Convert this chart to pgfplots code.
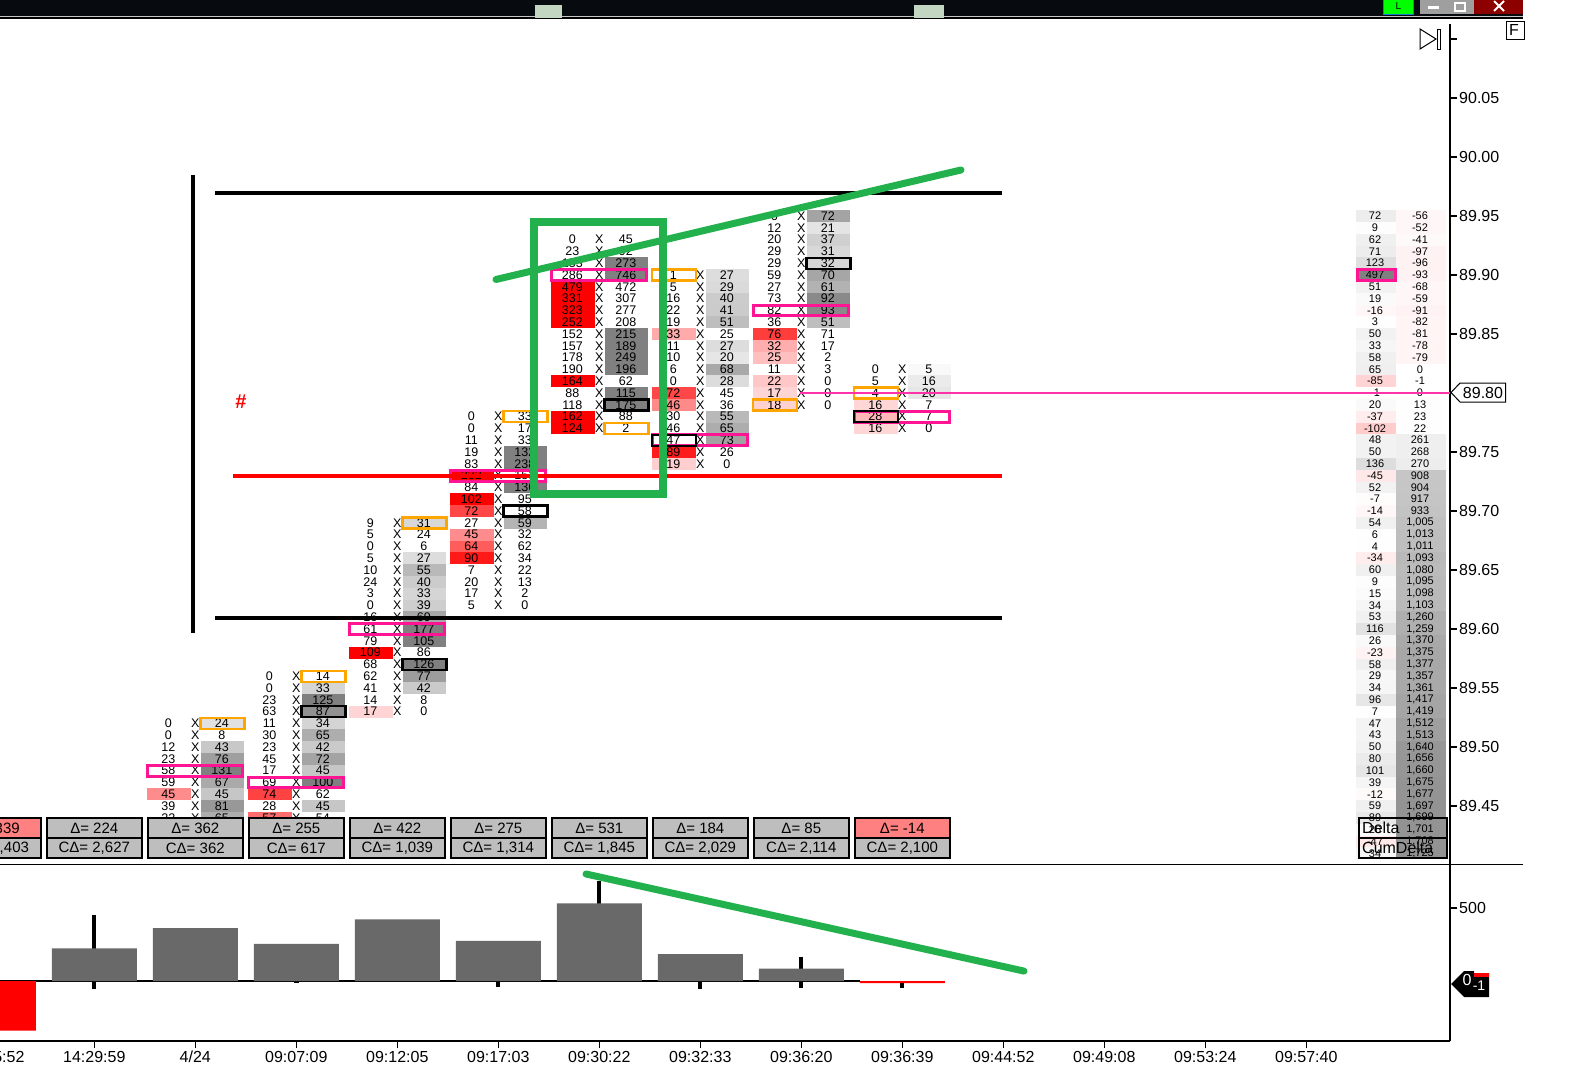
\documentclass[border=0pt]{standalone}
\usepackage{fontspec}
\setmainfont{Liberation Sans}
\usepackage{pgfplots}
\usepackage{pgfplotstable}
\pgfplotsset{compat=1.18}
\usetikzlibrary{plotmarks}

\definecolor{midgray}{HTML}{808080}
\definecolor{tagbox}{HTML}{BEBEBE}
\definecolor{tagred}{HTML}{FF8080}
\definecolor{volgray}{HTML}{696969}
\definecolor{boxpink}{HTML}{FF1493}
\definecolor{boxorange}{HTML}{FFA500}
\definecolor{penline}{HTML}{22B14C}
\definecolor{framedark}{HTML}{070B0F}

% cell and outline marks, sizes are screen pixels (1pt = 1px here)
\pgfdeclareplotmark{cell}{\pgfpathrectangle{\pgfpoint{-21.75pt}{-5.9pt}}{\pgfpoint{43.5pt}{11.8pt}}\pgfusepath{fill}}
\pgfdeclareplotmark{cella}{\pgfpathrectangle{\pgfpoint{-20pt}{-5.9pt}}{\pgfpoint{40pt}{11.8pt}}\pgfusepath{fill}}
\pgfdeclareplotmark{cellb}{\pgfpathrectangle{\pgfpoint{-25pt}{-5.9pt}}{\pgfpoint{50pt}{11.8pt}}\pgfusepath{fill}}
\pgfdeclareplotmark{sidebox}{\pgfpathrectangle{\pgfpoint{-22pt}{-5.5pt}}{\pgfpoint{44pt}{11pt}}\pgfusepath{stroke}}
\pgfdeclareplotmark{widebox}{\pgfpathrectangle{\pgfpoint{-47.5pt}{-5.4pt}}{\pgfpoint{95pt}{10.8pt}}\pgfusepath{stroke}}
\pgfdeclareplotmark{rightbox}{\pgfpathrectangle{\pgfpoint{-19pt}{-5.4pt}}{\pgfpoint{38pt}{10.8pt}}\pgfusepath{stroke}}
\pgfdeclareplotmark{tagcell}{\pgfpathrectangle{\pgfpoint{-47.5pt}{-10pt}}{\pgfpoint{95pt}{20pt}}\pgfusepath{fill,stroke}}

\tikzset{cellfont/.style={font=\fontsize{12.5}{12.5}\selectfont},
  smallfont/.style={font=\fontsize{11}{11}\selectfont}}

\pgfplotsset{
  shade/.style={only marks, mark=#1, scatter, forget plot, point meta=explicit},
  labels/.style={draw=none, forget plot, point meta=explicit symbolic, nodes near coords,
    every node near coord/.style={anchor=center,inner sep=0pt,text=black,#1}},
  xcol/.style={draw=none, forget plot, nodes near coords={X},
    every node near coord/.style={anchor=center,inner sep=0pt,text=black,cellfont}},
  tags/.style n args={2}{
    only marks, mark=tagcell, forget plot,
    mark options={fill=#1,draw=black,line width=1.8pt},
    point meta=explicit symbolic,
    nodes near coords={#2\pgfplotspointmeta},
    every node near coord/.style={anchor=center,inner sep=0pt,text=black,font=\fontsize{15}{15}\selectfont},
  },
  boxes/.style n args={3}{only marks, mark=#1, forget plot, mark options={draw=#2,line width=#3,fill=none}},
}

\newcommand{\footbar}[2]{%
  \addplot[shade=cell] table[x expr=#1-26.5,y=p,meta=sb]{#2};
  \addplot[shade=cell] table[x expr=#1+27,y=p,meta=sa]{#2};
  \addplot[labels=cellfont] table[x expr=#1-27,y=p,meta=bid]{#2};
  \addplot[labels=cellfont] table[x expr=#1+26.5,y=p,meta=ask]{#2};
  \addplot[xcol] table[x expr=#1,y=p]{#2};
}

% price bid ask, then fill shade in percent (negative = red, positive = gray)
\pgfplotstableread{
p bid ask sb sa
89.52 0 24 0 24
89.51 0 8 0 0
89.50 12 43 0 43
89.49 23 76 0 76
89.48 58 131 0 100
89.47 59 67 0 67
89.46 45 45 -45 45
89.45 39 81 0 81
89.44 22 65 0 65
}\tA
\pgfplotstableread{
p bid ask sb sa
89.56 0 14 0 0
89.55 0 33 0 33
89.54 23 125 0 100
89.53 63 87 0 87
89.52 11 34 0 34
89.51 30 65 0 65
89.50 23 42 0 42
89.49 45 72 0 72
89.48 17 45 0 45
89.47 69 100 0 100
89.46 74 62 -74 0
89.45 28 45 0 45
89.44 57 54 -57 0
}\tB
\pgfplotstableread{
p bid ask sb sa
89.69 9 31 0 31
89.68 5 24 0 0
89.67 0 6 0 0
89.66 5 27 0 27
89.65 10 55 0 55
89.64 24 40 0 40
89.63 3 33 0 33
89.62 0 39 0 39
89.61 16 69 0 69
89.60 61 177 0 100
89.59 79 105 0 100
89.58 109 86 -100 0
89.57 68 126 0 100
89.56 62 77 0 77
89.55 41 42 0 42
89.54 14 8 0 0
89.53 17 0 -17 0
}\tC
\pgfplotstableread{
p bid ask sb sa
89.78 0 33 0 0
89.77 0 17 0 0
89.76 11 33 0 0
89.75 19 132 0 100
89.74 83 238 0 100
89.73 232 153 -100 0
89.72 84 136 0 100
89.71 102 95 -100 0
89.70 72 58 -72 0
89.69 27 59 0 59
89.68 45 32 -45 0
89.67 64 62 -64 0
89.66 90 34 -90 0
89.65 7 22 0 0
89.64 20 13 0 0
89.63 17 2 0 0
89.62 5 0 0 0
}\tD
\pgfplotstableread{
p bid ask sb sa
89.93 0 45 0 0
89.92 23 92 0 0
89.91 153 273 0 100
89.90 286 746 0 100
89.89 479 472 -100 0
89.88 331 307 -100 0
89.87 323 277 -100 0
89.86 252 208 -100 0
89.85 152 215 0 100
89.84 157 189 0 100
89.83 178 249 0 100
89.82 190 196 0 100
89.81 164 62 -100 0
89.80 88 115 0 100
89.79 118 175 0 100
89.78 162 88 -100 0
89.77 124 2 -100 0
}\tE
\pgfplotstableread{
p bid ask sb sa
89.90 1 27 0 27
89.89 5 29 0 29
89.88 16 40 0 40
89.87 22 41 0 41
89.86 19 51 0 51
89.85 33 25 -33 0
89.84 11 27 0 27
89.83 10 20 0 20
89.82 6 68 0 68
89.81 0 28 0 28
89.80 72 45 -72 0
89.79 46 36 -46 0
89.78 30 55 0 55
89.77 46 65 0 65
89.76 47 73 0 73
89.75 89 26 -89 0
89.74 19 0 -19 0
}\tF
\pgfplotstableread{
p bid ask sb sa
89.95 6 72 0 72
89.94 12 21 0 21
89.93 20 37 0 37
89.92 29 31 0 31
89.91 29 32 0 32
89.90 59 70 0 70
89.89 27 61 0 61
89.88 73 92 0 92
89.87 82 93 0 93
89.86 36 51 0 51
89.85 76 71 -76 0
89.84 32 17 -32 0
89.83 25 2 -25 0
89.82 11 3 0 0
89.81 22 0 -22 0
89.80 17 0 -17 0
89.79 18 0 -18 0
}\tG
\pgfplotstableread{
p bid ask sb sa
89.82 0 5 0 5
89.81 5 16 0 16
89.80 4 20 0 20
89.79 16 7 -16 0
89.78 28 7 -28 0
89.77 16 0 -16 0
}\tH

% right hand profile: delta and cumulative delta per price
\pgfplotstableread{
p d c sd sc
89.95 72 -56 14 -3
89.94 9 -52 2 -3
89.93 62 -41 12 -2
89.92 71 -97 14 -5
89.91 123 -96 25 -5
89.90 497 -93 100 -5
89.89 51 -68 10 -3
89.88 19 -59 4 -3
89.87 -16 -91 -3 -5
89.86 3 -82 1 -4
89.85 50 -81 10 -4
89.84 33 -78 7 -4
89.83 58 -79 12 -4
89.82 65 0 13 0
89.81 -85 -1 -17 0
89.80 -1 0 0 0
89.79 20 13 4 1
89.78 -37 23 -7 1
89.77 -102 22 -20 1
89.76 48 261 10 13
89.75 50 268 10 13
89.74 136 270 27 14
89.73 -45 908 -9 45
89.72 52 904 10 45
89.71 -7 917 -1 46
89.70 -14 933 -3 47
89.69 54 1,005 11 50
89.68 6 1,013 1 51
89.67 4 1,011 1 51
89.66 -34 1,093 -7 55
89.65 60 1,080 12 54
89.64 9 1,095 2 55
89.63 15 1,098 3 55
89.62 34 1,103 7 55
89.61 53 1,260 11 63
89.60 116 1,259 23 63
89.59 26 1,370 5 68
89.58 -23 1,375 -5 69
89.57 58 1,377 12 69
89.56 29 1,357 6 68
89.55 34 1,361 7 68
89.54 96 1,417 19 71
89.53 7 1,419 1 71
89.52 47 1,512 9 76
89.51 43 1,513 9 76
89.50 50 1,640 10 82
89.49 80 1,656 16 83
89.48 101 1,660 20 83
89.47 39 1,675 8 84
89.46 -12 1,677 -2 84
89.45 59 1,697 12 85
89.44 89 1,699 18 85
89.43 26 1,701 5 85
89.42 -47 1,708 -9 85
89.41 34 1,725 7 86
}\tR

% bar summary tags
\pgfplotstableread{
x v
94.3 224
195.3 362
296.3 255
397.3 422
498.3 275
599.3 531
700.3 184
801.3 85
}\tDeltaPos
\pgfplotstableread{
x v
-6.7 -339
902.3 -14
}\tDeltaNeg
\pgfplotstableread{
x v
-6.7 2,403
94.3 2,627
195.3 362
296.3 617
397.3 1,039
498.3 1,314
599.3 1,845
700.3 2,029
801.3 2,114
902.3 2,100
}\tCum

\begin{document}
\begin{tikzpicture}
\useasboundingbox (0,0) rectangle (1583pt,-1077pt);

% price panel
\begin{axis}[
  at={(-100pt,-864pt)}, anchor=south west,
  scale only axis, width=1550pt, height=840pt,
  xmin=-100, xmax=1450, ymin=89.40085, ymax=90.11271,
  axis x line=none, axis y line=right,
  axis line style={-,line width=1.3pt,black},
  ytick={89.45,89.50,89.55,89.60,89.65,89.70,89.75,89.80,89.85,89.90,89.95,90.00,90.05,90.10},
  yticklabels={89.45,89.50,89.55,89.60,89.65,89.70,89.75,,89.85,89.90,89.95,90.00,90.05,},
  tick align=outside, major tick length=7pt,
  tick style={black,line width=1.2pt},
  yticklabel style={font=\fontsize{16}{16}\selectfont,inner sep=0pt,xshift=2pt},
  clip=true, clip mode=individual,
  colormap={cellmap}{color=(red) color=(white) color=(midgray)},
  point meta min=-100, point meta max=100,
]
\footbar{195.3}{\tA}
\footbar{296.3}{\tB}
\footbar{397.3}{\tC}
\footbar{498.3}{\tD}
\footbar{599.3}{\tE}
\footbar{700.3}{\tF}
\footbar{801.3}{\tG}
\footbar{902.3}{\tH}

% right profile
\addplot[shade=cella] table[x expr=1376,y=p,meta=sd]{\tR};
\addplot[shade=cellb] table[x expr=1421,y=p,meta=sc]{\tR};
\addplot[labels=smallfont] table[x expr=1375,y=p,meta=d]{\tR};
\addplot[labels=smallfont] table[x expr=1420,y=p,meta=c]{\tR};

% marked cells
\addplot[boxes={widebox}{boxpink}{3pt}] coordinates {(195.3,89.48)(296.3,89.47)(397.3,89.60)(498.3,89.73)(599.3,89.90)(700.3,89.76)(801.3,89.87)(902.3,89.78)};
\addplot[boxes={rightbox}{boxpink}{3pt}] coordinates {(1376,89.90)};
\addplot[boxes={sidebox}{boxorange}{2.4pt}] coordinates {(222.3,89.52)(323.3,89.56)(424.3,89.69)(525.3,89.78)(626.3,89.77)(673.8,89.90)(774.8,89.79)(875.8,89.80)};
\addplot[boxes={sidebox}{black}{2.4pt}] coordinates {(323.3,89.53)(424.3,89.57)(525.3,89.70)(626.3,89.79)(828.3,89.91)(673.8,89.76)(875.8,89.78)};

% level lines
\addplot[black,line width=4pt,forget plot] coordinates {(215,89.9695)(1002,89.9695)};
\addplot[black,line width=4pt,forget plot] coordinates {(215,89.6093)(1002,89.6093)};
\addplot[black,line width=4pt,forget plot] coordinates {(193,89.9847)(193,89.5966)};
\addplot[red,line width=3.6pt,forget plot] coordinates {(233,89.7297)(1002,89.7297)};
\addplot[color={rgb,255:red,255;green,50;blue,170},line width=2pt,forget plot] coordinates {(800,89.80)(1450,89.80)};

% summary tags under the bars
\addplot[tags={tagbox}{Δ= }] table[x=x,y expr=89.4314,meta=v]{\tDeltaPos};
\addplot[tags={tagred}{Δ= }] table[x=x,y expr=89.4314,meta=v]{\tDeltaNeg};
\addplot[tags={tagbox}{CΔ= }] table[x=x,y expr=89.4144,meta=v]{\tCum};

\node[text=red,font=\fontsize{20}{20}\selectfont\bfseries] at (axis cs:241,89.793) {\#};
\draw[black,line width=2pt] (axis cs:1359,89.4398) rectangle (axis cs:1447,89.4229);
\draw[black,line width=2pt] (axis cs:1359,89.4229) rectangle (axis cs:1447,89.4059);
\node[anchor=west,inner sep=0pt,font=\fontsize{16}{16}\selectfont] at (axis cs:1362,89.4314) {Delta};
\node[anchor=west,inner sep=0pt,font=\fontsize{16}{16}\selectfont] at (axis cs:1362,89.4144) {CumDelta};

% pen marks
\addplot[penline,line width=7.7pt,sharp plot,line join=miter,forget plot] coordinates {(534,89.9449)(663,89.9449)(663,89.7144)(534,89.7144)} --cycle;
\addplot[penline,line width=7pt,line cap=round,forget plot] coordinates {(496,89.8962)(961,89.989)};
\end{axis}

% volume delta panel
\begin{axis}[
  at={(-100pt,-1041pt)}, anchor=south west,
  scale only axis, width=1550pt, height=177pt,
  xmin=-100, xmax=1450, ymin=-410.96, ymax=801.4,
  axis x line=bottom, axis y line=right,
  axis line style={-,line width=1.3pt,black},
  ytick={500}, yticklabels={500},
  xtick={-6.7,94.3,195.3,296.3,397.3,498.3,599.3,700.3,801.3,902.3,1003.3,1104.3,1205.3,1306.3},
  xticklabels={14:25:52,14:29:59,4/24,09:07:09,09:12:05,09:17:03,09:30:22,09:32:33,09:36:20,09:36:39,09:44:52,09:49:08,09:53:24,09:57:40},
  tick align=outside, major tick length=7pt,
  tick style={black,line width=1.2pt},
  xticklabel style={font=\fontsize{16}{16}\selectfont,inner sep=0pt,yshift=-3pt},
  yticklabel style={font=\fontsize{16}{16}\selectfont,inner sep=0pt,xshift=2pt},
  clip=false,
]
% wicks first, the bars sit on them
\addplot[black,line width=4pt,forget plot] coordinates {(94.3,-52)(94.3,455)};
\addplot[black,line width=5pt,forget plot] coordinates {(296.3,-15)(296.3,0)};
\addplot[black,line width=4pt,forget plot] coordinates {(498.3,-40)(498.3,0)};
\addplot[black,line width=4pt,forget plot] coordinates {(599.3,0)(599.3,685)};
\addplot[black,line width=4pt,forget plot] coordinates {(700.3,-55)(700.3,0)};
\addplot[black,line width=4pt,forget plot] coordinates {(801.3,-48)(801.3,164)};
\addplot[black,line width=4pt,forget plot] coordinates {(902.3,-48)(902.3,0)};
\addplot[black,line width=1.3pt,forget plot] coordinates {(-100,0)(860,0)};
\addplot[ybar,bar width=85,fill=volgray,draw=none,forget plot] coordinates {(94.3,224)(195.3,362)(296.3,255)(397.3,422)(498.3,275)(599.3,531)(700.3,184)(801.3,85)};
\addplot[ybar,bar width=85,fill=red,draw=none,forget plot] coordinates {(-6.7,-339)(902.3,-14)};
\addplot[penline,line width=7pt,line cap=round,forget plot] coordinates {(586,733)(1024,68)};
\end{axis}

% window frame and loose screen furniture, in screen pixels
\begin{scope}[x=1pt,y=-1pt]
\fill[framedark] (0,0) rectangle (1523,16);
\fill[gray!45] (0,16) rectangle (1523,17);
\fill[black] (0,17) rectangle (1523,18.5);
\fill[green!20!gray!40] (535,5) rectangle (562,18);
\fill[green!20!gray!40] (914,5) rectangle (944,18);
\fill[green] (1383,0) rectangle (1413,14);
\draw[cyan!60!blue,line width=1pt] (1383,0) -- (1383,14) -- (1413,14) -- (1413,0);
\node[font=\fontsize{10}{10}\selectfont,inner sep=0pt] at (1398.5,6) {L};
\fill[gray!75] (1420,0) rectangle (1447,14);
\fill[gray!75] (1447,0) rectangle (1474,14);
\fill[red!55!black] (1474,0) rectangle (1523,14);
\fill[white] (1428,6) rectangle (1439,9);
\draw[white,line width=1.3pt] (1455,3) rectangle (1465,11);
\draw[white,line width=2pt] (1494,1) -- (1504,11) (1504,1) -- (1494,11);
\draw[black,line width=1pt] (0,864) -- (1523,864);
\draw[black,line width=1pt] (1420,29) -- (1436,39) -- (1420,49) -- cycle;
\draw[black,line width=1pt] (1437.5,29) rectangle (1440.5,49);
\draw[black,line width=1pt] (1506,21) rectangle (1524,39);
\node[font=\fontsize{16}{16}\selectfont,inner sep=0pt] at (1514,30) {F};
\draw[black,fill=white,line width=1pt] (1451,392.5) -- (1460,383) -- (1505.5,383) -- (1505.5,402) -- (1460,402) -- cycle;
\node[font=\fontsize{16}{16}\selectfont,inner sep=0pt] at (1483,392.5) {89.80};
\fill[black] (1451,984) -- (1464,971) -- (1474,971) -- (1474,973) -- (1489,973) -- (1489,997) -- (1464,997) -- cycle;
\fill[red] (1474,973) rectangle (1489,977);
\node[text=white,font=\fontsize{16}{16}\selectfont,inner sep=0pt] at (1467,980) {0};
\node[text=white,font=\fontsize{14}{14}\selectfont,inner sep=0pt] at (1479,986) {-1};
\end{scope}
\end{tikzpicture}
\end{document}
